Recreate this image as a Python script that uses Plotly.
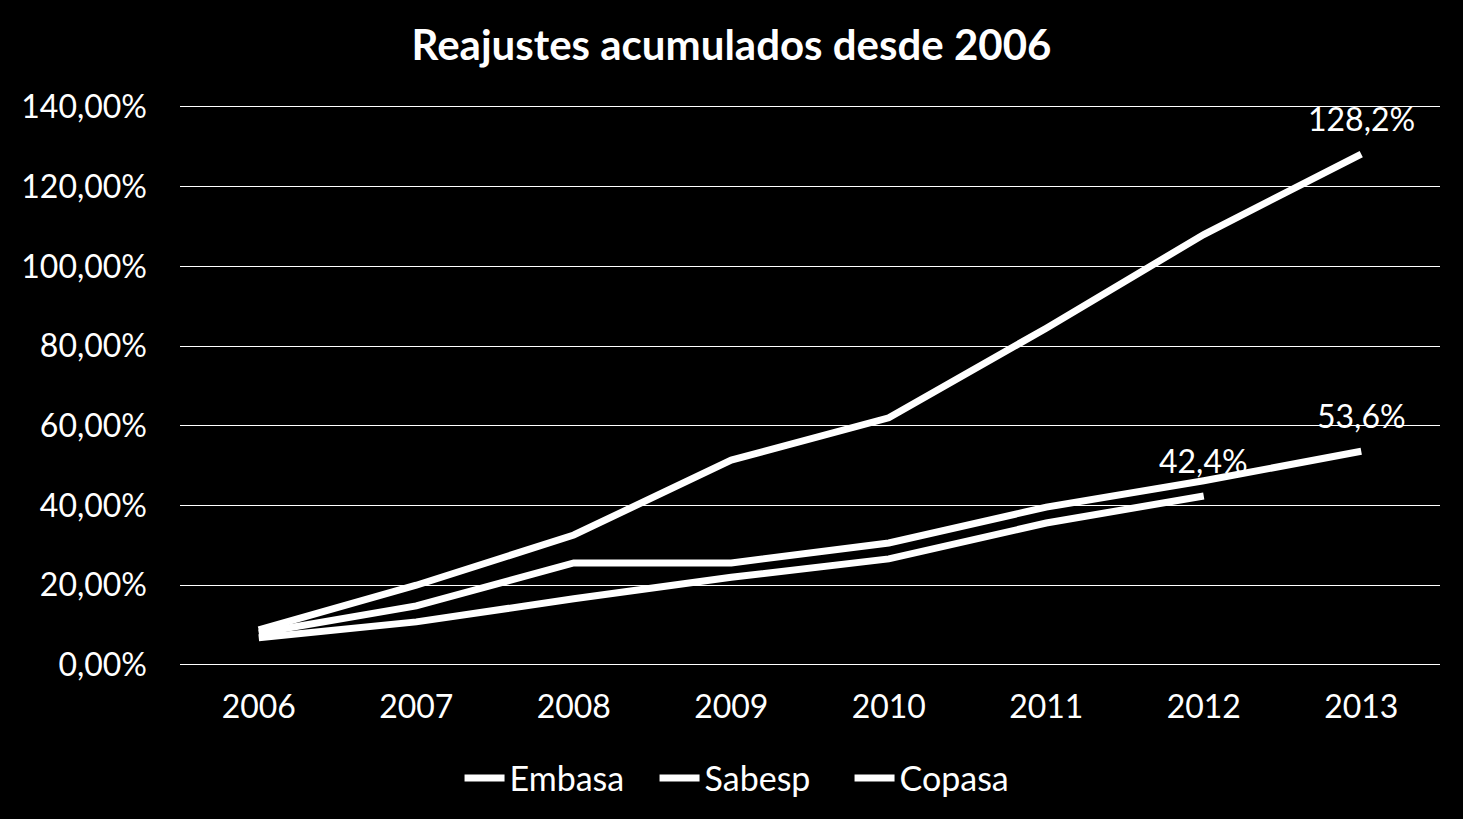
import plotly.graph_objects as go

years = ["2006", "2007", "2008", "2009", "2010", "2011", "2012", "2013"]
embasa = [8.8, 20.0, 32.6, 51.4, 62.0, 84.5, 108.0, 128.2]
sabesp = [8.0, 14.8, 25.6, 25.6, 30.6, 39.6, 46.2, 53.6]
copasa = [6.8, 10.8, 16.6, 22.0, 26.6, 35.6, 42.4]

labels = {"Embasa": "128,2%", "Sabesp": "53,6%", "Copasa": "42,4%"}
FONT = "Lato"

fig = go.Figure()
for name, vals in [("Embasa", embasa), ("Sabesp", sabesp), ("Copasa", copasa)]:
    x = years[:len(vals)]
    fig.add_trace(go.Scatter(
        x=x, y=vals, name=name, mode="lines",
        line=dict(color="white", width=7),
        cliponaxis=False,
    ))
    fig.add_annotation(x=len(vals) - 1, y=vals[-1], text=labels[name], showarrow=False,
                       xanchor="center", yanchor="bottom", yshift=14,
                       font=dict(color="white", size=32, family=FONT))

fig.update_layout(
    width=1463, height=819,
    paper_bgcolor="black", plot_bgcolor="black",
    separators=",.",
    margin=dict(l=180, r=23, t=105, b=154),
    title=dict(text="<b>Reajustes acumulados desde 2006</b>", x=0.5, xanchor="center",
               y=1 - 45 / 819, yanchor="middle", yref="container",
               font=dict(color="white", size=42, family=FONT)),
    font=dict(color="white", family=FONT, size=32),
    legend=dict(orientation="h", x=0.454, xanchor="center", y=-0.2025, yanchor="middle",
                font=dict(color="white", size=34, family=FONT), bgcolor="rgba(0,0,0,0)",
                itemwidth=40, entrywidth=140, entrywidthmode="pixels", tracegroupgap=0),
    showlegend=True,
)
fig.update_xaxes(type="category", range=[-0.5, len(years) - 0.5],
                 showgrid=False, showline=False, zeroline=False,
                 tickfont=dict(color="white", size=32, family=FONT), ticks="",
                 ticklabelstandoff=20)
fig.update_yaxes(range=[-0.02, 140.5], dtick=20, tick0=0, tickformat=".2f", ticksuffix="%",
                 showgrid=True, gridcolor="white", gridwidth=1.3,
                 zeroline=True, zerolinecolor="white", zerolinewidth=1.3,
                 showline=False, ticks="",
                 tickfont=dict(color="white", size=32, family=FONT),
                 ticklabelstandoff=32)

fig.write_html("out.html", config={"displayModeBar": False},
               post_script="document.body.style.margin='0';document.body.style.background='black';")
